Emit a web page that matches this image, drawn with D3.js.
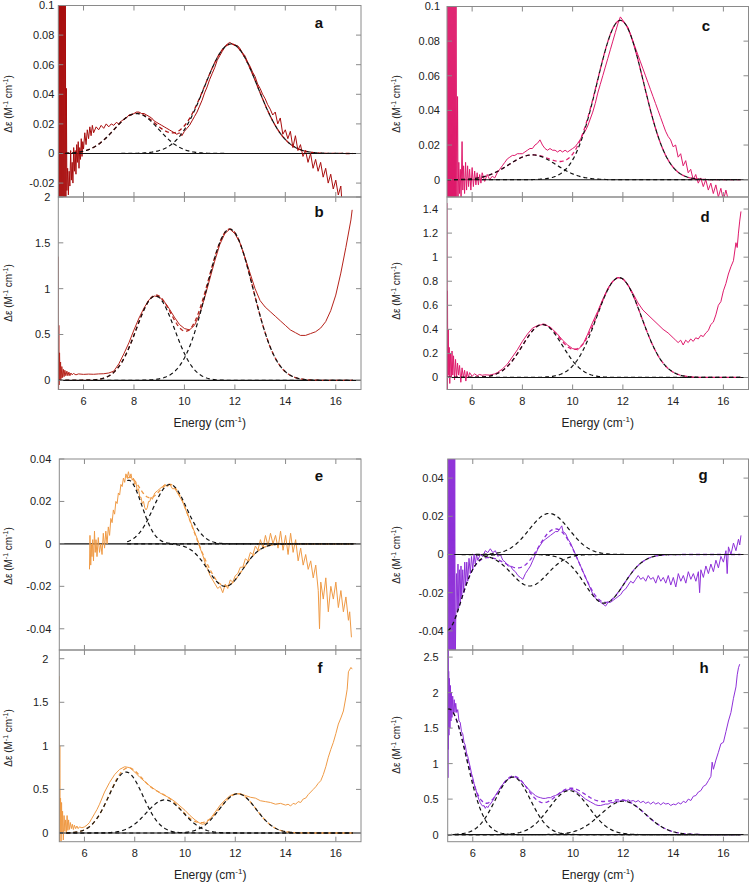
<!DOCTYPE html>
<html><head><meta charset="utf-8">
<script src="https://cdn.jsdelivr.net/npm/d3@7"></script>
<style>
html,body{margin:0;padding:0;background:#fff;}
svg{display:block;font-family:"Liberation Sans",Arial,Helvetica,sans-serif;}
</style></head>
<body><svg id="chart" width="751" height="885"></svg>
<script>
// ---------- DATA (energy, Δε) ----------
const xTickValues = [6, 8, 10, 12, 14, 16];

const spectrumA = [[5.00,0.2],[5.02,-0.05],[5.04,0.2],[5.06,-0.05],[5.08,0.2],[5.10,-0.05],[5.12,0.2],[5.14,-0.05],[5.16,0.2],[5.18,-0.05],[5.20,0.2],[5.22,-0.05],[5.24,0.2],[5.26,-0.05],[5.28,0.1],[5.30,-0.04],[5.32,0.044],[5.34,-0.025],[5.37,-0.01],[5.40,-0.028],[5.43,-0.012],[5.46,-0.022],[5.49,0.002],[5.52,-0.018],[5.55,-0.006],[5.58,-0.02],[5.61,0.004],[5.64,-0.012],[5.67,0.002],[5.70,-0.014],[5.73,0.006],[5.76,-0.006],[5.79,0.008],[5.82,-0.01],[5.85,0.004],[5.88,-0.004],[5.91,0.01],[5.94,-0.002],[5.97,0.008],[6.00,0.003],[6.05,0.014],[6.10,0.006],[6.15,0.016],[6.20,0.01],[6.25,0.018],[6.30,0.012],[6.35,0.019],[6.4,0.014],[6.5,0.018],[6.6,0.016],[6.7,0.019],[6.8,0.017],[6.9,0.02],[7.0,0.018],[7.1,0.02],[7.2,0.019],[7.3,0.021],[7.4,0.02],[7.5,0.022],[7.6,0.023],[7.7,0.024],[7.8,0.026],[7.9,0.026],[8.0,0.027],[8.1,0.028],[8.2,0.028],[8.3,0.027],[8.4,0.027],[8.5,0.026],[8.6,0.025],[8.7,0.024],[8.8,0.022],[8.9,0.021],[9.0,0.02],[9.1,0.019],[9.2,0.018],[9.3,0.017],[9.4,0.016],[9.5,0.015],[9.6,0.014],[9.7,0.013],[9.8,0.014],[9.9,0.012],[10.0,0.015],[10.1,0.017],[10.2,0.019],[10.3,0.022],[10.4,0.025],[10.5,0.028],[10.6,0.032],[10.7,0.036],[10.8,0.041],[10.9,0.045],[11.0,0.05],[11.1,0.054],[11.2,0.058],[11.3,0.063],[11.4,0.066],[11.5,0.069],[11.6,0.072],[11.7,0.074],[11.8,0.075],[11.9,0.074],[12.0,0.073],[12.1,0.073],[12.2,0.071],[12.3,0.068],[12.4,0.066],[12.5,0.062],[12.6,0.059],[12.7,0.055],[12.8,0.052],[12.9,0.047],[13.0,0.044],[13.1,0.04],[13.2,0.037],[13.3,0.033],[13.4,0.03],[13.5,0.026],[13.6,0.028],[13.7,0.02],[13.8,0.024],[13.9,0.013],[14.0,0.016],[14.1,0.01],[14.2,0.015],[14.3,0.004],[14.4,0.012],[14.5,0.002],[14.6,0.006],[14.7,-0.002],[14.8,0.002],[14.9,-0.006],[15.0,0.0],[15.1,-0.01],[15.2,-0.004],[15.3,-0.012],[15.4,-0.006],[15.5,-0.016],[15.6,-0.01],[15.7,-0.02],[15.8,-0.014],[15.9,-0.024],[16.0,-0.018],[16.1,-0.028],[16.2,-0.022],[16.25,-0.034]];

const spectrumB = [[5.0,1.35],[5.01,-0.1],[5.02,0.6],[5.03,-0.05],[5.05,0.3],[5.07,0.0],[5.09,0.2],[5.11,0.02],[5.14,0.15],[5.17,0.03],[5.2,0.12],[5.23,0.04],[5.26,0.11],[5.3,0.05],[5.34,0.1],[5.38,0.05],[5.42,0.09],[5.46,0.05],[5.5,0.08],[5.55,0.06],[5.6,0.075],[5.7,0.06],[5.8,0.07],[6.0,0.065],[6.2,0.068],[6.4,0.066],[6.6,0.07],[6.8,0.072],[7.0,0.08],[7.2,0.1],[7.4,0.18],[7.6,0.29],[7.8,0.41],[8.0,0.55],[8.2,0.68],[8.4,0.79],[8.6,0.88],[8.8,0.92],[9.0,0.91],[9.2,0.86],[9.4,0.78],[9.6,0.69],[9.8,0.61],[10.0,0.565],[10.2,0.55],[10.4,0.6],[10.6,0.72],[10.8,0.9],[11.0,1.1],[11.2,1.3],[11.4,1.48],[11.6,1.6],[11.8,1.65],[12.0,1.6],[12.2,1.5],[12.4,1.34],[12.6,1.17],[12.8,1.0],[13.0,0.87],[13.2,0.8],[13.4,0.75],[13.6,0.7],[13.8,0.65],[14.0,0.6],[14.2,0.55],[14.4,0.52],[14.6,0.49],[14.8,0.49],[15.0,0.51],[15.2,0.53],[15.4,0.57],[15.6,0.64],[15.8,0.76],[16.0,0.93],[16.2,1.17],[16.4,1.45],[16.6,1.75],[16.65,1.86]];

const spectrumC = [[5.0,0.12],[5.02,-0.02],[5.04,0.12],[5.06,-0.02],[5.08,0.12],[5.10,-0.02],[5.12,0.12],[5.14,-0.02],[5.16,0.12],[5.18,-0.02],[5.20,0.12],[5.22,-0.02],[5.24,0.12],[5.26,-0.02],[5.28,0.12],[5.30,-0.02],[5.32,0.12],[5.34,-0.02],[5.36,0.1],[5.39,-0.02],[5.42,0.048],[5.44,-0.01],[5.47,0.01],[5.5,-0.008],[5.53,0.006],[5.56,-0.01],[5.6,0.022],[5.63,-0.006],[5.66,0.008],[5.7,-0.008],[5.74,0.01],[5.78,-0.006],[5.82,0.008],[5.86,-0.004],[5.9,0.006],[5.95,-0.006],[6.0,0.007],[6.05,-0.004],[6.1,0.005],[6.15,-0.003],[6.2,0.004],[6.25,-0.003],[6.3,0.003],[6.35,-0.002],[6.4,0.004],[6.5,-0.001],[6.6,0.003],[6.7,0.0],[6.8,0.002],[6.9,0.001],[7.0,0.004],[7.1,0.006],[7.2,0.008],[7.3,0.01],[7.4,0.012],[7.5,0.013],[7.6,0.014],[7.7,0.014],[7.8,0.015],[7.9,0.015],[8.0,0.015],[8.1,0.016],[8.2,0.017],[8.3,0.018],[8.4,0.018],[8.5,0.02],[8.6,0.021],[8.7,0.023],[8.8,0.02],[8.9,0.018],[9.0,0.017],[9.1,0.018],[9.2,0.017],[9.3,0.017],[9.4,0.016],[9.5,0.017],[9.6,0.016],[9.7,0.017],[9.8,0.016],[9.9,0.017],[10.0,0.018],[10.1,0.019],[10.2,0.021],[10.3,0.023],[10.4,0.026],[10.5,0.028],[10.6,0.031],[10.7,0.035],[10.8,0.039],[10.9,0.044],[11.0,0.05],[11.1,0.055],[11.2,0.06],[11.3,0.065],[11.4,0.07],[11.5,0.075],[11.6,0.08],[11.7,0.085],[11.8,0.09],[11.9,0.094],[12.0,0.092],[12.1,0.09],[12.2,0.088],[12.3,0.084],[12.4,0.08],[12.5,0.076],[12.6,0.072],[12.7,0.068],[12.8,0.064],[12.9,0.06],[13.0,0.056],[13.1,0.052],[13.2,0.048],[13.3,0.044],[13.4,0.04],[13.5,0.036],[13.6,0.032],[13.7,0.028],[13.8,0.025],[13.9,0.023],[14.0,0.019],[14.1,0.02],[14.2,0.013],[14.3,0.015],[14.4,0.008],[14.5,0.011],[14.6,0.004],[14.7,0.006],[14.8,0.0],[14.9,0.003],[15.0,-0.002],[15.1,0.001],[15.2,-0.004],[15.3,0.0],[15.4,-0.006],[15.5,-0.002],[15.6,-0.008],[15.7,-0.003],[15.8,-0.01],[15.9,-0.005],[16.0,-0.012],[16.1,-0.006],[16.2,-0.012]];

const spectrumD = [[5.0,1.45],[5.01,-0.1],[5.02,0.72],[5.03,0.0],[5.05,0.4],[5.07,0.02],[5.09,0.25],[5.11,-0.05],[5.14,0.2],[5.17,0.0],[5.2,0.22],[5.23,0.02],[5.26,0.18],[5.3,-0.02],[5.34,0.15],[5.38,0.0],[5.42,0.12],[5.46,0.02],[5.5,0.1],[5.55,-0.04],[5.6,0.08],[5.65,0.0],[5.7,0.06],[5.75,-0.03],[5.8,0.05],[5.85,0.0],[5.9,0.04],[6.0,0.01],[6.1,0.03],[6.2,0.015],[6.3,0.025],[6.4,0.018],[6.5,0.022],[6.7,0.02],[6.9,0.03],[7.0,0.04],[7.2,0.07],[7.4,0.11],[7.6,0.17],[7.8,0.23],[8.0,0.3],[8.2,0.36],[8.4,0.41],[8.6,0.43],[8.8,0.44],[9.0,0.43],[9.2,0.4],[9.4,0.36],[9.6,0.31],[9.8,0.27],[10.0,0.24],[10.2,0.23],[10.4,0.27],[10.6,0.36],[10.8,0.46],[11.0,0.55],[11.2,0.65],[11.4,0.74],[11.6,0.8],[11.8,0.83],[12.0,0.82],[12.2,0.77],[12.4,0.7],[12.6,0.62],[12.8,0.56],[13.0,0.52],[13.2,0.48],[13.4,0.44],[13.6,0.4],[13.8,0.37],[14.0,0.33],[14.1,0.31],[14.2,0.29],[14.3,0.31],[14.4,0.27],[14.5,0.31],[14.6,0.29],[14.7,0.32],[14.8,0.3],[14.9,0.33],[15.0,0.32],[15.1,0.35],[15.2,0.34],[15.3,0.37],[15.4,0.39],[15.5,0.44],[15.6,0.46],[15.7,0.52],[15.8,0.6],[15.9,0.63],[16.0,0.72],[16.1,0.78],[16.2,0.86],[16.3,0.92],[16.4,0.97],[16.5,1.12],[16.55,1.08],[16.6,1.2],[16.65,1.3],[16.7,1.38]];

const spectrumE = [[6.2,-0.012],[6.22,0.004],[6.25,-0.01],[6.28,0.0],[6.3,-0.006],[6.33,0.002],[6.36,-0.008],[6.4,0.006],[6.43,-0.004],[6.46,0.002],[6.5,-0.006],[6.55,0.003],[6.6,-0.004],[6.65,0.0],[6.7,-0.005],[6.75,0.005],[6.8,-0.002],[6.85,0.006],[6.9,0.0],[6.95,0.008],[7.0,0.004],[7.05,0.012],[7.1,0.01],[7.15,0.016],[7.2,0.014],[7.25,0.02],[7.3,0.019],[7.35,0.024],[7.4,0.023],[7.45,0.028],[7.5,0.027],[7.55,0.031],[7.6,0.029],[7.65,0.033],[7.7,0.031],[7.75,0.034],[7.8,0.031],[7.85,0.033],[7.9,0.03],[7.95,0.031],[8.0,0.028],[8.05,0.029],[8.1,0.025],[8.15,0.026],[8.2,0.022],[8.25,0.022],[8.3,0.019],[8.35,0.02],[8.4,0.017],[8.45,0.016],[8.5,0.017],[8.55,0.02],[8.6,0.02],[8.65,0.022],[8.7,0.021],[8.8,0.024],[8.9,0.025],[9.0,0.026],[9.1,0.027],[9.2,0.028],[9.3,0.027],[9.4,0.028],[9.5,0.026],[9.6,0.026],[9.7,0.024],[9.8,0.022],[9.9,0.02],[10.0,0.017],[10.1,0.014],[10.2,0.011],[10.3,0.008],[10.4,0.005],[10.5,0.002],[10.6,-0.002],[10.7,-0.005],[10.8,-0.009],[10.9,-0.012],[11.0,-0.015],[11.1,-0.017],[11.2,-0.019],[11.3,-0.021],[11.4,-0.02],[11.5,-0.023],[11.6,-0.019],[11.7,-0.021],[11.8,-0.017],[11.9,-0.018],[12.0,-0.015],[12.1,-0.014],[12.2,-0.011],[12.3,-0.011],[12.4,-0.007],[12.5,-0.008],[12.6,-0.004],[12.7,-0.005],[12.8,-0.001],[12.9,-0.003],[13.0,0.002],[13.1,-0.002],[13.2,0.004],[13.3,-0.001],[13.4,0.005],[13.5,0.0],[13.6,0.004],[13.7,-0.002],[13.8,0.006],[13.9,-0.003],[14.0,0.004],[14.1,-0.005],[14.2,0.005],[14.3,-0.004],[14.4,0.002],[14.5,-0.008],[14.6,-0.002],[14.7,-0.01],[14.8,-0.005],[14.9,-0.012],[15.0,-0.008],[15.1,-0.016],[15.2,-0.01],[15.3,-0.022],[15.35,-0.04],[15.4,-0.018],[15.5,-0.026],[15.6,-0.016],[15.7,-0.032],[15.8,-0.02],[15.9,-0.026],[16.0,-0.018],[16.1,-0.03],[16.2,-0.022],[16.3,-0.032],[16.4,-0.025],[16.5,-0.036],[16.55,-0.032],[16.62,-0.044]];

const spectrumF = [[5.0,1.8],[5.01,-0.1],[5.02,1.0],[5.03,0.0],[5.05,0.4],[5.07,-0.1],[5.09,0.35],[5.11,0.0],[5.13,0.25],[5.16,-0.08],[5.19,0.2],[5.22,0.02],[5.25,0.15],[5.28,0.0],[5.31,0.2],[5.34,0.03],[5.37,0.15],[5.4,0.04],[5.44,0.12],[5.48,0.05],[5.52,0.1],[5.56,0.04],[5.6,0.09],[5.65,0.05],[5.7,0.08],[5.75,0.05],[5.8,0.07],[5.9,0.06],[6.0,0.07],[6.1,0.09],[6.2,0.12],[6.3,0.17],[6.4,0.22],[6.5,0.27],[6.6,0.33],[6.8,0.47],[7.0,0.58],[7.2,0.67],[7.4,0.73],[7.6,0.76],[7.8,0.75],[8.0,0.7],[8.2,0.64],[8.4,0.59],[8.6,0.54],[8.8,0.5],[9.0,0.46],[9.2,0.43],[9.4,0.4],[9.6,0.36],[9.8,0.31],[10.0,0.26],[10.2,0.2],[10.4,0.15],[10.6,0.11],[10.7,0.1],[10.8,0.11],[11.0,0.16],[11.2,0.24],[11.4,0.32],[11.6,0.38],[11.8,0.43],[12.0,0.45],[12.2,0.45],[12.4,0.43],[12.6,0.41],[12.8,0.4],[13.0,0.37],[13.2,0.36],[13.4,0.35],[13.6,0.33],[13.8,0.34],[14.0,0.32],[14.1,0.33],[14.2,0.31],[14.3,0.34],[14.4,0.33],[14.5,0.36],[14.6,0.35],[14.7,0.39],[14.8,0.4],[14.9,0.44],[15.0,0.47],[15.1,0.5],[15.2,0.53],[15.3,0.57],[15.4,0.6],[15.5,0.67],[15.6,0.76],[15.7,0.87],[15.8,0.96],[15.9,1.04],[16.0,1.14],[16.1,1.25],[16.2,1.32],[16.3,1.4],[16.4,1.56],[16.45,1.65],[16.5,1.85],[16.6,1.9],[16.65,1.88]];

const spectrumG = [[5.0,0.06],[5.02,-0.06],[5.04,0.06],[5.06,-0.06],[5.08,0.06],[5.10,-0.06],[5.12,0.06],[5.14,-0.06],[5.16,0.06],[5.18,-0.06],[5.20,0.06],[5.22,-0.06],[5.24,0.06],[5.26,-0.06],[5.28,0.06],[5.30,-0.06],[5.32,-0.035],[5.35,-0.01],[5.38,-0.03],[5.41,-0.005],[5.44,-0.028],[5.47,-0.008],[5.5,-0.025],[5.53,-0.006],[5.56,-0.022],[5.6,-0.008],[5.64,-0.02],[5.68,-0.004],[5.72,-0.016],[5.76,-0.004],[5.8,-0.014],[5.85,-0.002],[5.9,-0.01],[5.95,-0.001],[6.0,-0.008],[6.05,0.0],[6.1,-0.005],[6.15,0.0],[6.2,-0.003],[6.3,0.0],[6.4,-0.001],[6.5,0.002],[6.6,0.001],[6.7,0.003],[6.8,0.001],[6.9,0.002],[7.0,-0.001],[7.1,0.0],[7.2,-0.003],[7.3,-0.004],[7.4,-0.006],[7.5,-0.006],[7.6,-0.008],[7.7,-0.009],[7.8,-0.011],[7.9,-0.012],[8.0,-0.013],[8.1,-0.01],[8.2,-0.008],[8.3,-0.006],[8.4,-0.003],[8.5,0.0],[8.6,0.003],[8.7,0.005],[8.8,0.007],[8.9,0.008],[9.0,0.009],[9.1,0.01],[9.2,0.011],[9.3,0.012],[9.4,0.012],[9.5,0.014],[9.55,0.015],[9.6,0.012],[9.7,0.011],[9.8,0.008],[9.9,0.006],[10.0,0.003],[10.1,0.0],[10.2,-0.003],[10.3,-0.006],[10.4,-0.009],[10.5,-0.012],[10.6,-0.015],[10.7,-0.018],[10.8,-0.021],[10.9,-0.023],[11.0,-0.024],[11.1,-0.025],[11.2,-0.026],[11.3,-0.027],[11.4,-0.025],[11.5,-0.025],[11.6,-0.024],[11.7,-0.023],[11.8,-0.022],[11.9,-0.021],[12.0,-0.019],[12.1,-0.018],[12.2,-0.016],[12.3,-0.014],[12.4,-0.015],[12.5,-0.013],[12.6,-0.011],[12.7,-0.013],[12.8,-0.012],[12.9,-0.014],[13.0,-0.011],[13.1,-0.013],[13.2,-0.012],[13.3,-0.015],[13.4,-0.011],[13.5,-0.014],[13.6,-0.012],[13.7,-0.015],[13.8,-0.011],[13.9,-0.016],[14.0,-0.012],[14.1,-0.017],[14.2,-0.01],[14.3,-0.014],[14.4,-0.011],[14.5,-0.015],[14.6,-0.009],[14.7,-0.013],[14.8,-0.01],[14.9,-0.014],[15.0,-0.009],[15.05,-0.02],[15.1,-0.008],[15.2,-0.012],[15.3,-0.006],[15.4,-0.01],[15.5,-0.005],[15.6,-0.009],[15.7,-0.003],[15.8,-0.007],[15.9,-0.001],[16.0,-0.004],[16.1,0.002],[16.15,-0.01],[16.2,0.004],[16.3,0.0],[16.4,0.006],[16.5,0.002],[16.6,0.008],[16.65,0.005],[16.7,0.01]];

const spectrumH = [[5.0,2.7],[5.01,0.8],[5.02,2.6],[5.03,1.2],[5.04,2.3],[5.05,1.4],[5.07,2.2],[5.09,1.5],[5.11,2.1],[5.13,1.6],[5.15,2.0],[5.17,1.65],[5.2,1.95],[5.23,1.7],[5.26,1.9],[5.29,1.72],[5.32,1.85],[5.36,1.72],[5.4,1.76],[5.45,1.6],[5.5,1.58],[5.55,1.45],[5.6,1.42],[5.65,1.3],[5.7,1.26],[5.75,1.15],[5.8,1.1],[5.85,1.02],[5.9,0.95],[5.95,0.86],[6.0,0.8],[6.05,0.72],[6.1,0.66],[6.15,0.6],[6.2,0.54],[6.25,0.49],[6.3,0.45],[6.35,0.42],[6.4,0.4],[6.45,0.41],[6.5,0.37],[6.55,0.4],[6.6,0.38],[6.65,0.41],[6.7,0.43],[6.8,0.48],[6.9,0.55],[7.0,0.6],[7.1,0.66],[7.2,0.71],[7.3,0.75],[7.4,0.78],[7.5,0.8],[7.6,0.81],[7.7,0.81],[7.8,0.79],[7.9,0.76],[8.0,0.73],[8.1,0.69],[8.2,0.65],[8.3,0.61],[8.4,0.58],[8.5,0.55],[8.6,0.53],[8.7,0.52],[8.8,0.51],[8.9,0.51],[9.0,0.52],[9.1,0.52],[9.2,0.54],[9.3,0.55],[9.4,0.57],[9.5,0.59],[9.6,0.61],[9.7,0.62],[9.8,0.63],[9.9,0.64],[10.0,0.63],[10.1,0.61],[10.2,0.59],[10.3,0.56],[10.4,0.53],[10.5,0.5],[10.6,0.48],[10.7,0.46],[10.8,0.44],[10.9,0.42],[11.0,0.41],[11.1,0.41],[11.2,0.42],[11.3,0.43],[11.4,0.43],[11.5,0.45],[11.6,0.45],[11.7,0.47],[11.8,0.46],[11.9,0.48],[12.0,0.49],[12.1,0.47],[12.2,0.49],[12.3,0.47],[12.4,0.48],[12.5,0.46],[12.6,0.48],[12.7,0.45],[12.8,0.47],[12.9,0.44],[13.0,0.46],[13.1,0.43],[13.2,0.46],[13.3,0.43],[13.4,0.45],[13.5,0.42],[13.6,0.45],[13.7,0.43],[13.8,0.44],[13.9,0.41],[14.0,0.43],[14.1,0.42],[14.2,0.45],[14.3,0.43],[14.4,0.47],[14.5,0.45],[14.6,0.5],[14.7,0.48],[14.8,0.54],[14.9,0.55],[15.0,0.6],[15.1,0.62],[15.2,0.68],[15.3,0.7],[15.4,0.76],[15.5,0.82],[15.55,1.02],[15.6,0.92],[15.7,1.05],[15.8,1.16],[15.9,1.28],[16.0,1.3],[16.1,1.45],[16.2,1.6],[16.3,1.72],[16.4,1.92],[16.5,2.08],[16.55,2.25],[16.6,2.35],[16.65,2.4]];

// Gaussian fit components: [centre, height, width]
const gaussA = [[8.1, 0.027, 0.88], [11.85, 0.074, 1.06]];
const gaussB = [[8.85, 0.92, 0.76], [11.8, 1.65, 0.92]];
const gaussC = [[8.4, 0.0143, 0.94], [11.9, 0.092, 0.93]];
const gaussD = [[8.8, 0.44, 0.79], [11.85, 0.83, 0.89]];
const gaussE = [[7.75, 0.030, 0.53], [9.4, 0.028, 0.66], [11.6, -0.020, 0.69]];
const gaussF = [[7.65, 0.70, 0.68], [9.2, 0.38, 0.74], [12.1, 0.45, 0.73]];
const gaussG = [[4.95, -0.040, 0.58], [8.27, -0.0165, 0.72], [9.05, 0.0215, 0.8], [11.25, -0.0255, 0.78]];
const gaussH = [[5.05, 1.77, 0.7], [7.6, 0.81, 0.7], [9.85, 0.62, 0.8], [12.0, 0.47, 0.9]];

const yTicksA = [-0.02, 0, 0.02, 0.04, 0.06, 0.08, 0.1];
const yTicksB = [0, 0.5, 1, 1.5, 2];
const yTicksC = [0, 0.02, 0.04, 0.06, 0.08, 0.1];
const yTicksD = [0, 0.2, 0.4, 0.6, 0.8, 1, 1.2, 1.4];
const yTicksE = [-0.04, -0.02, 0, 0.02, 0.04];
const yTicksF = [0, 0.5, 1, 1.5, 2];
const yTicksG = [-0.04, -0.02, 0, 0.02, 0.04];
const yTicksH = [0, 0.5, 1, 1.5, 2, 2.5];

const panelLetters = ["a", "b", "c", "d", "e", "f", "g", "h"];

// ---------- LAYOUT ----------
const colRed = "#a80d0d", colRedB = "#b5231b", colPink = "#de1a6b", colOrange = "#ef9a45", colPurple = "#8e30d8";
const panels = [
  {data: spectrumA, fit: gaussA, ticks: yTicksA, color: colRed,    x0: 58.3, x1: 361, y0: 5.5, y1: 197, dom: [-0.0294, 0.1], gap: 4, fitFrom: 5.0, xl: false, lx: 319, ly: 28, ylab: 104},
  {data: spectrumB, fit: gaussB, ticks: yTicksB, color: colRedB,   x0: 58.3, x1: 361, y0: 197, y1: 389.5, dom: [-0.1, 2], gap: 8, fitFrom: 5.0, xl: true, lx: 319, ly: 217, ylab: 293},
  {data: spectrumC, fit: gaussC, ticks: yTicksC, color: colPink,   x0: 447, x1: 748.5, y0: 6.5, y1: 197, dom: [-0.01, 0.1], gap: 7, fitFrom: 5.0, xl: false, lx: 706, ly: 31, ylab: 104},
  {data: spectrumD, fit: gaussD, ticks: yTicksD, color: colPink,   x0: 447, x1: 748.5, y0: 197, y1: 389.5, dom: [-0.1, 1.5], gap: 9, fitFrom: 5.0, xl: true, lx: 705, ly: 222, ylab: 291},
  {data: spectrumE, fit: gaussE, ticks: yTicksE, color: colOrange, x0: 59.3, x1: 361, y0: 459, y1: 650, dom: [-0.05, 0.04], gap: 8, fitFrom: 7.7, xl: false, lx: 319, ly: 481, ylab: 556},
  {data: spectrumF, fit: gaussF, ticks: yTicksF, color: colOrange, x0: 59.3, x1: 361, y0: 650, y1: 841.7, dom: [-0.1, 2.1], gap: 11, fitFrom: 5.0, xl: true, lx: 320, ly: 673, ylab: 738},
  {data: spectrumG, fit: gaussG, ticks: yTicksG, color: colPurple, x0: 447.7, x1: 748.5, y0: 459, y1: 650, dom: [-0.05, 0.05], gap: 4, fitFrom: 5.0, xl: false, lx: 703, ly: 480, ylab: 555},
  {data: spectrumH, fit: gaussH, ticks: yTicksH, color: colPurple, x0: 447.7, x1: 748.5, y0: 650, y1: 841.7, dom: [-0.1, 2.6], gap: 9, fitFrom: 5.0, xl: true, lx: 704, ly: 673, ylab: 745}
];

const svg = d3.select("#chart");
const defs = svg.append("defs");
const fmt = v => String(+v.toFixed(3));
const gauss = (g, e) => g[1] * Math.exp(-((e - g[0]) ** 2) / (2 * g[2] * g[2]));

panels.forEach((p, i) => {
  const x = d3.scaleLinear().domain([5, 17]).range([p.x0, p.x1]);
  const y = d3.scaleLinear().domain(p.dom).range([p.y1, p.y0]);
  const cid = "clip" + i;
  defs.append("clipPath").attr("id", cid).append("rect")
    .attr("x", p.x0).attr("y", p.y0).attr("width", p.x1 - p.x0).attr("height", p.y1 - p.y0);
  const g = svg.append("g");
  const plot = g.append("g").attr("clip-path", `url(#${cid})`);

  // zero line
  plot.append("line").attr("x1", p.x0).attr("x2", p.x1).attr("y1", y(0)).attr("y2", y(0))
    .attr("stroke", "#111").attr("stroke-width", 1.1);

  // data
  const line = d3.line().x(d => x(d[0])).y(d => y(d[1]));
  plot.append("path").datum(p.data).attr("d", line).attr("fill", "none")
    .attr("stroke", p.color).attr("stroke-width", 1).attr("stroke-linejoin", "round");

  // fit curves
  const grid = d3.range(p.fitFrom, 16.71, 0.04);
  const sum = grid.map(e => [e, d3.sum(p.fit, c => gauss(c, e))]);
  plot.append("path").datum(sum).attr("d", line).attr("fill", "none")
    .attr("stroke", p.color).attr("stroke-width", 1.3).attr("stroke-dasharray", "4,3");
  p.fit.forEach(c => {
    const comp = grid.map(e => [e, gauss(c, e)]);
    plot.append("path").datum(comp).attr("d", line).attr("fill", "none")
      .attr("stroke", "#111").attr("stroke-width", 1.2).attr("stroke-dasharray", "4,3");
  });

  // frame
  g.append("rect").attr("x", p.x0).attr("y", p.y0).attr("width", p.x1 - p.x0).attr("height", p.y1 - p.y0)
    .attr("fill", "none").attr("stroke", "#8a8a8a").attr("stroke-width", 1);

  // ticks (inward, mirrored)
  const tk = 5;
  xTickValues.forEach(v => {
    g.append("line").attr("x1", x(v)).attr("x2", x(v)).attr("y1", p.y0).attr("y2", p.y0 + tk).attr("stroke", "#8a8a8a");
    g.append("line").attr("x1", x(v)).attr("x2", x(v)).attr("y1", p.y1).attr("y2", p.y1 - tk).attr("stroke", "#8a8a8a");
  });
  p.ticks.forEach(v => {
    g.append("line").attr("x1", p.x0).attr("x2", p.x0 + tk).attr("y1", y(v)).attr("y2", y(v)).attr("stroke", "#8a8a8a");
    g.append("line").attr("x1", p.x1).attr("x2", p.x1 - tk).attr("y1", y(v)).attr("y2", y(v)).attr("stroke", "#8a8a8a");
    g.append("text").attr("x", p.x0 - p.gap).attr("y", y(v)).attr("dy", "0.36em")
      .attr("text-anchor", "end").attr("font-size", 11).attr("fill", "#222").text(fmt(v));
  });

  if (p.xl) {
    xTickValues.forEach(v => {
      g.append("text").attr("x", x(v)).attr("y", p.y1 + 15).attr("text-anchor", "middle")
        .attr("font-size", 11).attr("fill", "#222").text(v);
    });
    const t = g.append("text").attr("x", (p.x0 + p.x1) / 2).attr("y", p.y1 + 37)
      .attr("text-anchor", "middle").attr("font-size", 12).attr("fill", "#222");
    t.append("tspan").text("Energy (cm");
    t.append("tspan").attr("dy", -5).attr("font-size", 8).text("-1");
    t.append("tspan").attr("dy", 5).text(")");
  }

  // y label
  const lx = p.x0 < 200 ? 12 : 400;
  const yl = g.append("text").attr("transform", `translate(${lx},${p.ylab}) rotate(-90)`)
    .attr("text-anchor", "middle").attr("font-size", 10).attr("fill", "#222");
  yl.append("tspan").text("\u0394\u03b5 (M");
  yl.append("tspan").attr("dy", -4).attr("font-size", 7).text("-1");
  yl.append("tspan").attr("dy", 4).text(" cm");
  yl.append("tspan").attr("dy", -4).attr("font-size", 7).text("-1");
  yl.append("tspan").attr("dy", 4).text(")");

  // panel letter
  g.append("text").attr("x", p.lx).attr("y", p.ly).attr("text-anchor", "middle")
    .attr("font-size", 15).attr("font-weight", "bold").attr("fill", "#111").text(panelLetters[i]);
});
</script>
</body></html>
